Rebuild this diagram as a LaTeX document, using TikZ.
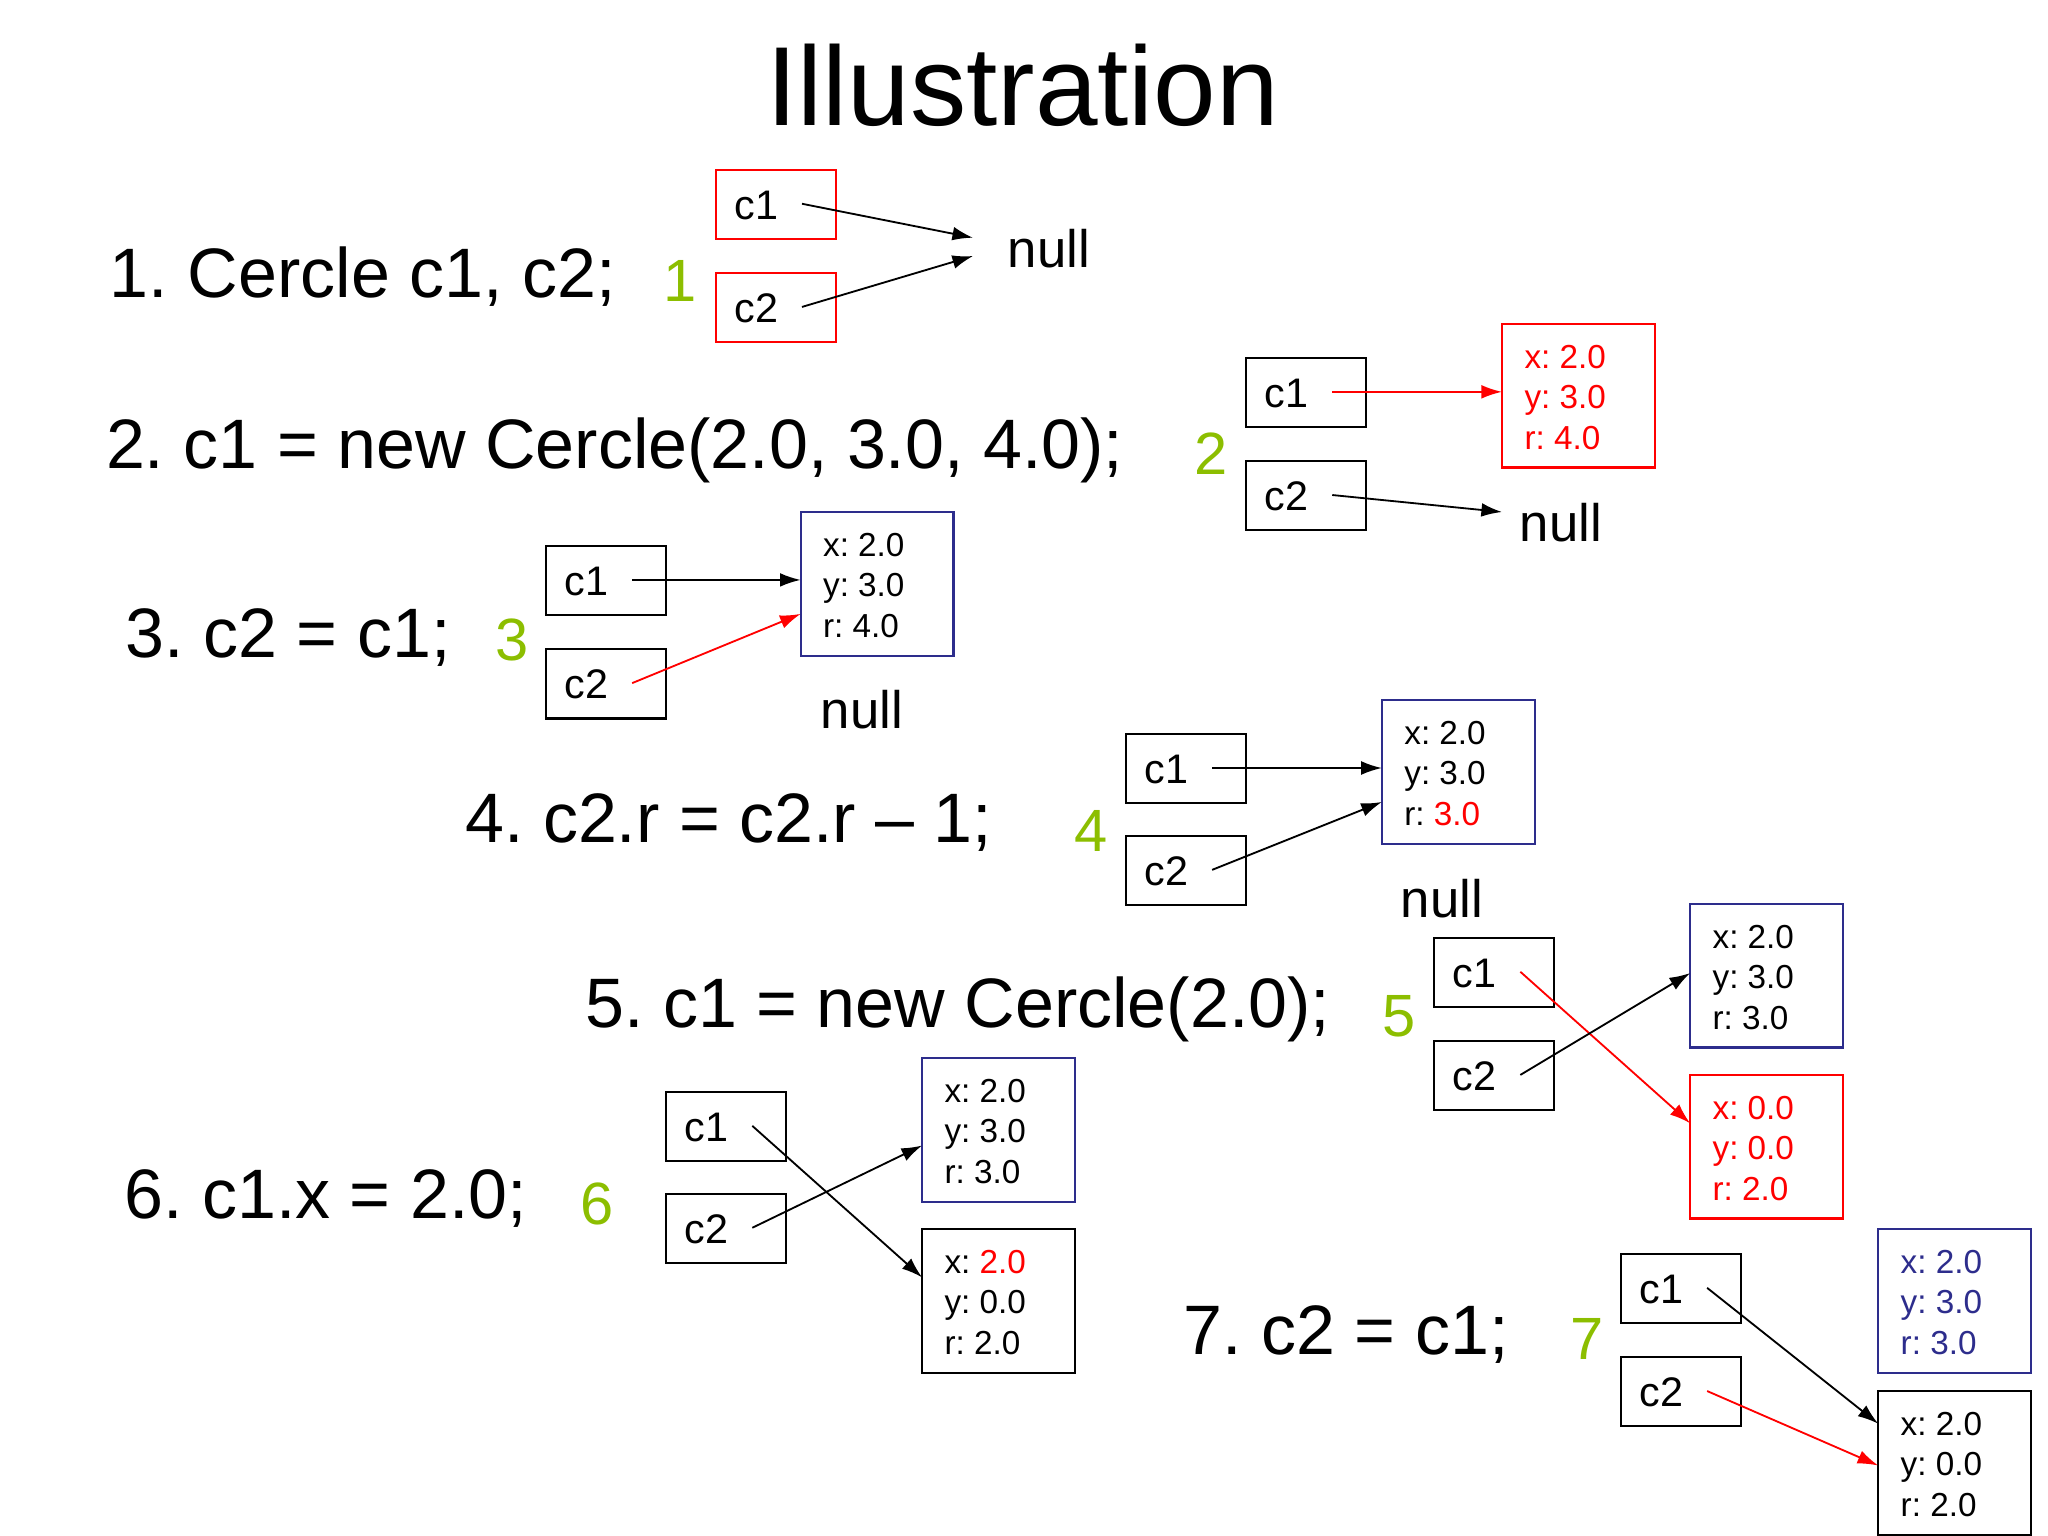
\documentclass[tikz,border=0pt]{standalone}
\usepackage{fontspec}
\setmainfont{Liberation Sans}
\usetikzlibrary{arrows.meta}
\definecolor{grn}{RGB}{140,190,0}
\definecolor{nav}{RGB}{45,45,140}
\frenchspacing
\begin{document}
\begin{tikzpicture}[x=0.02cm,y=-0.02cm,
  title/.style={font=\fontsize{49}{54}\selectfont},
  stmt/.style={anchor=west,font=\fontsize{30.5}{34}\selectfont},
  num/.style={text=grn,font=\fontsize{26}{30}\selectfont},
  lab/.style={font=\fontsize{18}{22}\selectfont},
  nul/.style={font=\fontsize{23}{26}\selectfont},
  val/.style={anchor=base west,font=\fontsize{14.5}{17}\selectfont},
  arr/.style={-{Latex[length=9pt,width=6pt]},line width=0.8pt},
  bx/.style={line width=1pt}]
\useasboundingbox (0,0) rectangle (1568,1176);
\newcommand\pbox[5]{% name x y label color
  \draw[bx,#5] (#2,#3) rectangle ++(92,53);
  \node[lab] (#1l) at (#2+31,#3+27) {#4};
  \coordinate (#1) at (#2+66,#3+26);}
\newcommand\obox[7]{% x y color l1 l2 l3 name
  \draw[bx,#3] (#1,#2) rectangle ++(117,110);
  \node[val] (#7a) at (#1+11,#2+34) {#4};
  \node[val] (#7b) at (#1+11,#2+65) {#5};
  \node[val] (#7c) at (#1+11,#2+96) {#6};}
\node[title] (t) at (783,65) {Illustration};
% 1
\node[stmt] (s1) at (78,212) {1. Cercle c1, c2;};
\node[num] (n1) at (521,215) {1};
\pbox{a1}{548}{130}{c1}{red}
\pbox{b1}{548}{209}{c2}{red}
\node[nul] (null1) at (803,190) {null};
\coordinate (e1) at (745,182); \coordinate (f1) at (745,196);
\draw[arr] (a1) -- (e1); \draw[arr] (b1) -- (f1);
% 2
\node[stmt] (s2) at (75,345) {2. c1 = new Cercle(2.0, 3.0, 4.0);};
\node[num] (n2) at (927,347) {2};
\pbox{a2}{954}{274}{c1}{black}
\pbox{b2}{954}{353}{c2}{black}
\obox{1150}{248}{red}{\textcolor{red}{x: 2.0}}{\textcolor{red}{y: 3.0}}{\textcolor{red}{r: 4.0}}{o2}
\coordinate (e2) at (1150,300); \coordinate (f2) at (1150,392);
\node[nul] (null2) at (1195,400) {null};
\draw[arr,red] (a2) -- (e2); \draw[arr] (b2) -- (f2);
% 3
\node[stmt] (s3) at (90,488) {3. c2 = c1;};
\node[num] (n3) at (392,490) {3};
\pbox{a3}{418}{418}{c1}{black}
\pbox{b3}{418}{497}{c2}{black}
\obox{613}{392}{nav}{x: 2.0}{y: 3.0}{r: 4.0}{o3}
\coordinate (e3) at (613,444); \coordinate (f3) at (613,470);
\node[nul] (null3) at (660,543) {null};
\draw[arr] (a3) -- (e3); \draw[arr,red] (b3) -- (f3);
% 4
\node[stmt] (s4) at (350,630) {4. c2.r = c2.r -- 1;};
\node[num] (n4) at (835,636) {4};
\pbox{a4}{862}{562}{c1}{black}
\pbox{b4}{862}{640}{c2}{black}
\obox{1058}{536}{nav}{x: 2.0}{y: 3.0}{r: \textcolor{red}{3.0}}{o4}
\coordinate (e4) at (1058,588); \coordinate (f4) at (1058,614);
\node[nul] (null4) at (1104,688) {null};
\draw[arr] (a4) -- (e4); \draw[arr] (b4) -- (f4);
% 5
\node[stmt] (s5) at (442,773) {5. c1 = new Cercle(2.0);};
\node[num] (n5) at (1071,778) {5};
\pbox{a5}{1098}{718}{c1}{black}
\pbox{b5}{1098}{797}{c2}{black}
\obox{1294}{692}{nav}{x: 2.0}{y: 3.0}{r: 3.0}{o5}
\obox{1294}{823}{red}{\textcolor{red}{x: 0.0}}{\textcolor{red}{y: 0.0}}{\textcolor{red}{r: 2.0}}{p5}
\coordinate (e5) at (1294,860); \coordinate (f5) at (1294,745);
\draw[arr,red] (a5) -- (e5); \draw[arr] (b5) -- (f5);
% 6
\node[stmt] (s6) at (89,918) {6. c1.x = 2.0;};
\node[num] (n6) at (457,922) {6};
\pbox{a6}{510}{836}{c1}{black}
\pbox{b6}{510}{914}{c2}{black}
\obox{706}{810}{nav}{x: 2.0}{y: 3.0}{r: 3.0}{o6}
\obox{706}{941}{black}{x: \textcolor{red}{2.0}}{y: 0.0}{r: 2.0}{p6}
\coordinate (e6) at (706,978); \coordinate (f6) at (706,877);
\draw[arr] (a6) -- (e6); \draw[arr] (b6) -- (f6);
% 7
\node[stmt] (s7) at (900,1022) {7. c2 = c1;};
\node[num] (n7) at (1215,1025) {7};
\pbox{a7}{1241}{960}{c1}{black}
\pbox{b7}{1241}{1039}{c2}{black}
\obox{1438}{941}{nav}{\textcolor{nav}{x: 2.0}}{\textcolor{nav}{y: 3.0}}{\textcolor{nav}{r: 3.0}}{o7}
\obox{1438}{1065}{black}{x: 2.0}{y: 0.0}{r: 2.0}{p7}
\coordinate (e7) at (1438,1090); \coordinate (f7) at (1438,1122);
\draw[arr] (a7) -- (e7); \draw[arr,red] (b7) -- (f7);
\end{tikzpicture}
\end{document}
